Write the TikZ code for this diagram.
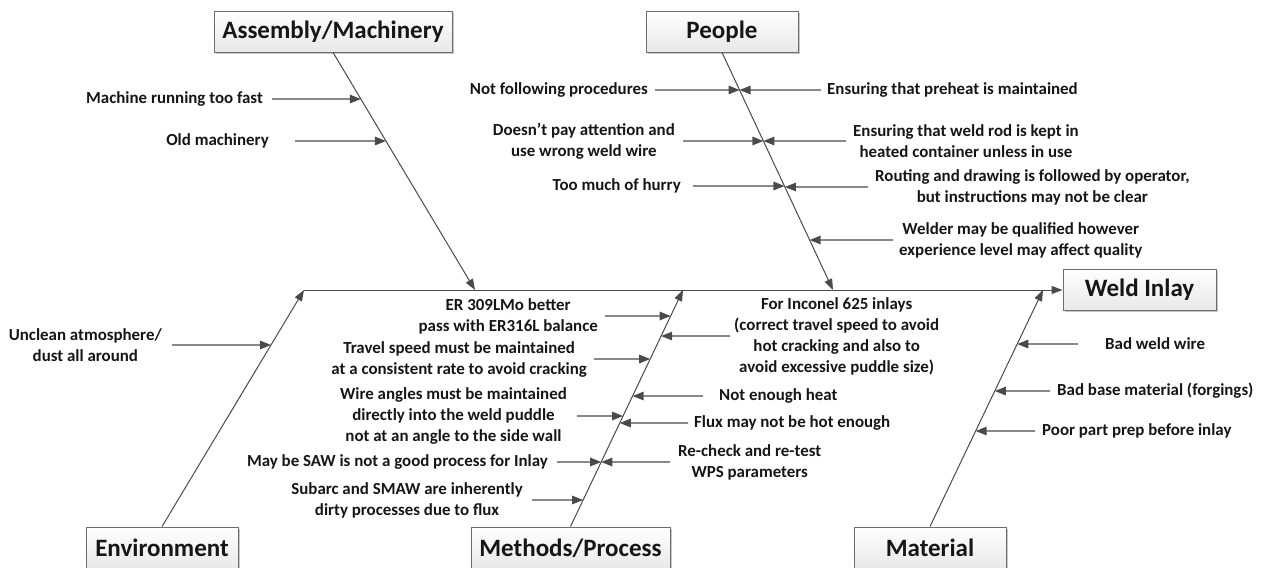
\documentclass[tikz,border=0pt]{standalone}
\usepackage{fontspec}
\setmainfont{Carlito}
\usetikzlibrary{arrows.meta,shadows}

\definecolor{linec}{HTML}{4A4A4A}
\definecolor{boxline}{HTML}{6E6E6E}
\definecolor{txt}{HTML}{161616}

\begin{document}
\begin{tikzpicture}[x=1pt,y=-1pt,
  title/.style={draw=boxline, line width=0.9pt, top color=white, bottom color=black!9,
    text=txt, font=\bfseries\fontsize{25}{30}\selectfont, minimum height=41pt,
    inner sep=0pt, drop shadow={shadow xshift=1.8pt, shadow yshift=-1.8pt, opacity=0.22, fill=black}},
  cause/.style={text=txt, font=\bfseries\fontsize{16.9}{21}\selectfont, align=center, inner sep=0pt},
  bone/.style={draw=linec, line width=1pt, -{Triangle[length=11pt,width=8pt]}},
  arr/.style={draw=linec, line width=1.3pt, -{Triangle[length=11pt,width=8.5pt]}},
]
\useasboundingbox (0,0) rectangle (1262,568);
\clip (0,0) rectangle (1262,568);

% category boxes and the effect box
\node[title, minimum width=238pt] (asm) at (333,31.5) {Assembly/Machinery};
\node[title, minimum width=152pt] (ppl) at (722,31.5) {People};
\node[title, minimum width=153pt] (weld) at (1139.5,290) {Weld Inlay};
\node[title, minimum width=152pt, minimum height=42pt] (env) at (162,548) {Environment};
\node[title, minimum width=199pt, minimum height=42pt] (mth) at (570.5,548) {Methods/Process};
\node[title, minimum width=152pt, minimum height=42pt] (mat) at (930,548) {Material};

% where the bones meet the spine
\coordinate (asmT) at (475,290);
\coordinate (pplT) at (833,290);
\coordinate (envT) at (304,290);
\coordinate (mthT) at (683,290);
\coordinate (matT) at (1043,290);

% spine and bones
\draw[bone] (envT) -- (weld.west);
\draw[bone] (asm.south) -- (asmT);
\draw[bone] (ppl.south) -- (pplT);
\draw[bone] (env.north) -- (envT);
\draw[bone] (mth.north) -- (mthT);
\draw[bone] (mat.north) -- (matT);

% Assembly/Machinery causes
\node[cause, anchor=east] (a1) at (263,99) {Machine running too fast};
\draw[arr] ([xshift=9pt]a1.east) -- (intersection of asm.south--asmT and a1.east--a1.west);
\node[cause, anchor=east] (a2) at (269,141) {Old machinery};
\draw[arr] ([xshift=26pt]a2.east) -- (intersection of asm.south--asmT and a2.east--a2.west);

% People causes
\node[cause, anchor=east] (p1) at (648,90) {Not following procedures};
\draw[arr] ([xshift=7pt]p1.east) -- (intersection of ppl.south--pplT and p1.east--p1.west);
\node[cause, anchor=east] (p2) at (675,141) {Doesn’t pay attention and\\use wrong weld wire};
\draw[arr] ([xshift=8pt]p2.east) -- (intersection of ppl.south--pplT and p2.east--p2.west);
\node[cause, anchor=east] (p3) at (681,186) {Too much of hurry};
\draw[arr] ([xshift=12pt]p3.east) -- (intersection of ppl.south--pplT and p3.east--p3.west);

\node[cause, anchor=west] (q1) at (827,90) {Ensuring that preheat is maintained};
\draw[arr] ([xshift=-6pt]q1.west) -- (intersection of ppl.south--pplT and q1.east--q1.west);
\node[cause, anchor=west] (q2) at (853,141) {Ensuring that weld rod is kept in\\heated container unless in use};
\draw[arr] ([xshift=-7pt]q2.west) -- (intersection of ppl.south--pplT and q2.east--q2.west);
\node[cause, anchor=west] (q3) at (875,187) {Routing and drawing is followed by operator,\\but instructions may not be clear};
\draw[arr] ([xshift=-7pt]q3.west) -- (intersection of ppl.south--pplT and q3.east--q3.west);
\node[cause, anchor=west] (q4) at (899,240) {Welder may be qualified however\\experience level may affect quality};
\draw[arr] ([xshift=-6pt]q4.west) -- (intersection of ppl.south--pplT and q4.east--q4.west);

% Environment causes
\node[cause, anchor=east] (e1) at (162,345) {Unclean atmosphere/\\dust all around};
\draw[arr] ([xshift=10pt]e1.east) -- (intersection of env.north--envT and e1.east--e1.west);

% Methods/Process causes
\node[cause, anchor=east] (m1) at (598,316) {ER 309LMo better\\pass with ER316L balance};
\draw[arr] ([xshift=7pt]m1.east) -- (intersection of mth.north--mthT and m1.east--m1.west);
\node[cause, anchor=east] (m2) at (587,359) {Travel speed must be maintained\\at a consistent rate to avoid cracking};
\draw[arr] ([xshift=7pt]m2.east) -- (intersection of mth.north--mthT and m2.east--m2.west);
\node[cause, anchor=east] (m3) at (567,416) {Wire angles must be maintained\\directly into the weld puddle\\not at an angle to the side wall};
\draw[arr] ([xshift=10pt]m3.east) -- (intersection of mth.north--mthT and m3.east--m3.west);
\node[cause, anchor=east] (m4) at (548,462) {May be SAW is not a good process for Inlay};
\draw[arr] ([xshift=9pt]m4.east) -- (intersection of mth.north--mthT and m4.east--m4.west);
\node[cause, anchor=east] (m5) at (523,500) {Subarc and SMAW are inherently\\dirty processes due to flux};
\draw[arr] ([xshift=9pt]m5.east) -- (intersection of mth.north--mthT and m5.east--m5.west);

\node[cause, anchor=west] (n1) at (734,336) {For Inconel 625 inlays\\(correct travel speed to avoid\\hot cracking and also to\\avoid excessive puddle size)};
\draw[arr] ([xshift=-4pt]n1.west) -- (intersection of mth.north--mthT and n1.east--n1.west);
\node[cause, anchor=west] (n2) at (719,396) {Not enough heat};
\draw[arr] ([xshift=-16pt]n2.west) -- (intersection of mth.north--mthT and n2.east--n2.west);
\node[cause, anchor=west] (n3) at (694,423) {Flux may not be hot enough};
\draw[arr] ([xshift=-6pt]n3.west) -- (intersection of mth.north--mthT and n3.east--n3.west);
\node[cause, anchor=west] (n4) at (678,462) {Re-check and re-test\\WPS parameters};
\draw[arr] ([xshift=-8pt]n4.west) -- (intersection of mth.north--mthT and n4.east--n4.west);

% Material causes
\node[cause, anchor=west] (t1) at (1105,344) {Bad weld wire};
\draw[arr] ([xshift=-27pt]t1.west) -- (intersection of mat.north--matT and t1.east--t1.west);
\node[cause, anchor=west] (t2) at (1057,391) {Bad base material (forgings)};
\draw[arr] ([xshift=-7pt]t2.west) -- (intersection of mat.north--matT and t2.east--t2.west);
\node[cause, anchor=west] (t3) at (1042,431) {Poor part prep before inlay};
\draw[arr] ([xshift=-7pt]t3.west) -- (intersection of mat.north--matT and t3.east--t3.west);
\end{tikzpicture}
\end{document}
